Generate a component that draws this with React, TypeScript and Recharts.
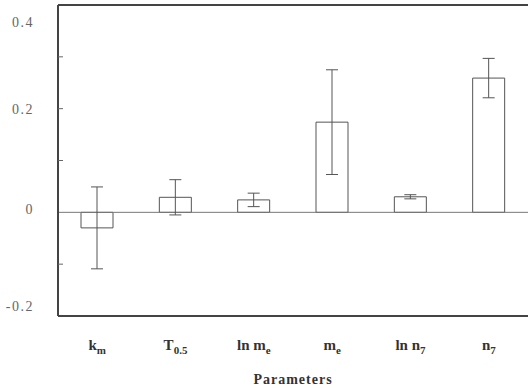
import React from 'react';
import {
  BarChart,
  Bar,
  XAxis,
  YAxis,
  ErrorBar,
  ReferenceLine,
} from 'recharts';

// parameter names: main glyphs + subscript
const labelMain = ['k', 'T', 'ln m', 'm', 'ln n', 'n'];
const labelSub = ['m', '0.5', 'e', 'e', '7', '7'];
const means = [-0.03, 0.029, 0.024, 0.174, 0.03, 0.259];
const errors = [0.079, 0.034, 0.013, 0.101, 0.004, 0.038];
const yTicks = [-0.2, -0.1, 0, 0.1, 0.2, 0.3, 0.4];
const yLabelled = [-0.2, 0, 0.2, 0.4];

const data = labelMain.map((m, i) => ({
  key: String(i),
  value: means[i],
  err: errors[i],
}));

const serif = '"Liberation Serif", "DejaVu Serif", serif';

const YTick = (props: any) => {
  const { x, y, payload } = props;
  const v = payload.value;
  const show = yLabelled.includes(v);
  // scanned labels sit a little off their ticks at the ends
  const dy = v === 0.4 ? 15 : v === -0.2 ? -8 : v === 0 ? -2 : 2;
  return (
    <g>
      {v !== 0.4 && v !== -0.2 && v !== 0 && (
        <line x1={x} x2={x + 5} y1={y} y2={y} stroke="#666" strokeWidth={1} />
      )}
      {show && (
        <text
          x={x - 24}
          y={y + dy}
          textAnchor="end"
          dominantBaseline="middle"
          fontFamily={serif}
          fontSize={14}
          letterSpacing={1.5}
          fill="#666"
        >
          {v === 0 ? '0' : v.toFixed(1)}
        </text>
      )}
    </g>
  );
};

const XTick = (props: any) => {
  const { x, y, payload } = props;
  const i = Number(payload.value);
  return (
    <text
      x={x}
      y={y + 26}
      textAnchor="middle"
      fontFamily={serif}
      fontSize={15}
      fontWeight="bold"
      fill="#333"
    >
      {labelMain[i]}
      <tspan fontSize={11} dy={4}>
        {labelSub[i]}
      </tspan>
    </text>
  );
};

export default function App() {
  return (
    <div style={{ width: 530, height: 391, background: '#fff' }}>
      <style>{`body{margin:0}`}</style>
      <BarChart
        width={530}
        height={391}
        data={data}
        margin={{ top: 5, right: 2, bottom: 45, left: 0 }}
        barCategoryGap={23}
      >
        <XAxis
          dataKey="key"
          height={30}
          axisLine={{ stroke: '#444', strokeWidth: 2 }}
          tickLine={false}
          tick={<XTick />}
          interval={0}
          label={{
            value: 'Parameters',
            position: 'insideBottom',
            offset: -38,
            fontFamily: serif,
            fontSize: 14,
            fontWeight: 'bold',
            letterSpacing: 1,
            fill: '#333',
          }}
        />
        <YAxis
          width={58}
          domain={[-0.2, 0.4]}
          ticks={yTicks}
          tickLine={false}
          tickSize={0}
          tickMargin={0}
          axisLine={{ stroke: '#444', strokeWidth: 2 }}
          tick={<YTick />}
          allowDataOverflow
        />
        <YAxis
          yAxisId="right"
          orientation="right"
          width={0}
          domain={[-0.2, 0.4]}
          tick={false}
          tickLine={false}
          axisLine={{ stroke: '#ccc' }}
        />
        <ReferenceLine y={0.4} stroke="#444" strokeWidth={2} />
        <ReferenceLine y={0} stroke="#777" strokeWidth={1} />
        <Bar
          dataKey="value"
          fill="#fff"
          stroke="#555"
          strokeWidth={1}
          isAnimationActive={false}
        >
          <ErrorBar dataKey="err" width={6} stroke="#555" strokeWidth={1} />
        </Bar>
      </BarChart>
    </div>
  );
}
